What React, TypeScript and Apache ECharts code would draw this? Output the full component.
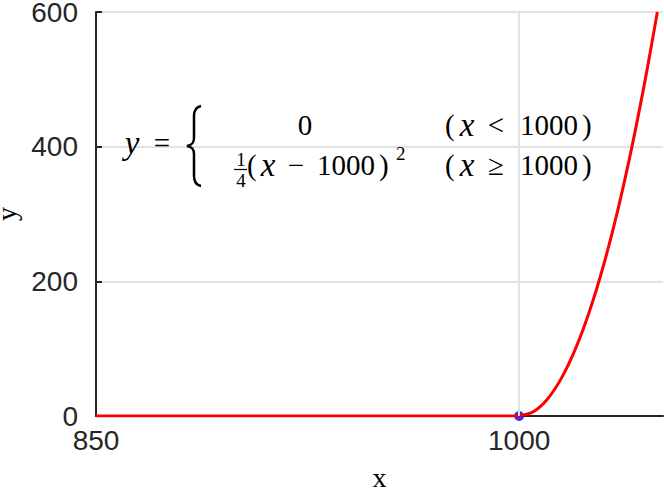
import React, { useEffect, useRef } from "react";
import * as echarts from "echarts";

// Flat branch (x < 1000)
const flatX = [850, 1000];
const flatY = [0, 0];
// Quadratic branch (x >= 1000)
const curveX = [1000, 1005, 1010, 1015, 1020, 1025, 1030, 1035, 1040, 1045, 1049];
const curveY = [0, 6.25, 25, 56.25, 100, 156.25, 225, 306.25, 400, 506.25, 600];
// Highlighted point
const pointX = [1000];
const pointY = [0];
// Tick labels
const xTicks = [850, 1000];
const yTicks = [0, 200, 400, 600];

const BRACE =
  "M14,0 C9,1 7,4 7,10 L7,32 C7,37 5,39 0,40 C5,41 7,43 7,48 L7,70 C7,76 9,79 14,80";

let registered = false;

export default function App() {
  const ref = useRef<HTMLDivElement>(null);
  useEffect(() => {
    if (!registered) {
      echarts.graphic.registerShape("brace", echarts.graphic.extendPath(BRACE, {}));
      registered = true;
    }
    const chart = echarts.init(ref.current!, null, { renderer: "svg" });
    const axisColor = "#262626";
    const gridColor = "#e2e2e2";
    const serif = "Liberation Serif";
    const fs = 29;
    const small = 19;
    const xs = 33;
    const t = (text: string, x: number, y: number, align: string, size = fs, italic = false) => ({
      type: "text",
      z: 10,
      style: {
        text,
        x,
        y,
        font: `${italic ? "italic " : ""}${size}px '${serif}'`,
        fill: "#000",
        align,
        verticalAlign: "middle",
        textAlign: align,
        textVerticalAlign: "middle",
      },
    });
    const row1 = 125;
    const row2 = 165;
    chart.setOption({
      animation: false,
      grid: { left: 96, right: 1, top: 12, bottom: 73, containLabel: false, outerBoundsMode: "none" },
      xAxis: {
        type: "value",
        min: 850,
        max: 1051,
        interval: 50,
        name: "x",
        nameLocation: "middle",
        nameGap: 47,
        nameTextStyle: { fontFamily: serif, fontSize: 28, color: "#000" },
        axisLine: { show: true, onZero: false, lineStyle: { color: axisColor, width: 2 } },
        axisTick: { show: true, inside: true, length: 6, customValues: xTicks, lineStyle: { color: axisColor, width: 2 } },
        axisLabel: {
          customValues: xTicks,
          formatter: (v: number) => String(v),
          margin: 10,
          fontFamily: "Liberation Sans",
          fontSize: 28,
          color: axisColor,
        },
        splitLine: { show: false },
      },
      yAxis: {
        type: "value",
        min: 0,
        max: 600,
        interval: 200,
        name: "y",
        nameLocation: "middle",
        nameGap: 76,
        nameTextStyle: { fontFamily: serif, fontSize: 28, color: "#000" },
        axisLine: { show: true, lineStyle: { color: axisColor, width: 2 } },
        axisTick: { show: true, inside: true, length: 6, customValues: yTicks, lineStyle: { color: axisColor, width: 2 } },
        axisLabel: {
          customValues: yTicks,
          formatter: (v: number) => String(v),
          margin: 18,
          fontFamily: "Liberation Sans",
          fontSize: 28,
          color: axisColor,
        },
        splitLine: { show: true, lineStyle: { color: gridColor, width: 2 } },
      },
      series: [
        {
          type: "line",
          data: [],
          silent: true,
          markLine: {
            silent: true,
            symbol: "none",
            label: { show: false },
            lineStyle: { color: gridColor, width: 2, type: "solid" },
            data: [{ xAxis: xTicks[1] }],
          },
        },
        {
          type: "scatter",
          data: pointX.map((x, i) => [x, pointY[i]]),
          symbolSize: 10,
          itemStyle: { color: "#0000ff" },
        },
        {
          type: "line",
          data: flatX.map((x, i) => [x, flatY[i]]),
          showSymbol: false,
          lineStyle: { color: "#ff0000", width: 3 },
        },
        {
          type: "line",
          data: curveX.map((x, i) => [x, curveY[i]]),
          showSymbol: false,
          smooth: 0.3,
          lineStyle: { color: "#ff0000", width: 3 },
        },
      ],
      graphic: [
        t("y", 132, 143, "center", xs, true),
        t("=", 162, 143, "center"),
        {
          type: "brace",
          z: 10,
          x: 187,
          y: 106,
          shape: {},
          style: { fill: "none", stroke: "#000", lineWidth: 2.5 },
        },
        t("0", 305, row1, "center"),
        t("(", 445, row1, "left"),
        t("x", 467, row1, "center", xs, true),
        t("<", 496, row1, "center"),
        t("1000", 520, row1, "left"),
        t(")", 582, row1, "left"),
        t("1", 241, 159, "center", small),
        {
          type: "line",
          z: 10,
          shape: { x1: 234, y1: 169.5, x2: 247, y2: 169.5 },
          style: { stroke: "#000", lineWidth: 1.2 },
        },
        t("4", 241, 180, "center", small),
        t("(", 247, row2, "left"),
        t("x", 268, row2, "center", xs, true),
        t("\u2212", 296, row2, "center"),
        t("1000", 317, row2, "left"),
        t(")", 379, row2, "left"),
        t("2", 396, 153, "left", small),
        t("(", 445, row2, "left"),
        t("x", 467, row2, "center", xs, true),
        t("\u2265", 496, row2, "center"),
        t("1000", 520, row2, "left"),
        t(")", 582, row2, "left"),
      ],
    });
    return () => chart.dispose();
  }, []);
  return (
    <div
      ref={ref}
      style={{ position: "fixed", left: 0, top: 0, width: 664, height: 489, background: "#fff" }}
    />
  );
}
